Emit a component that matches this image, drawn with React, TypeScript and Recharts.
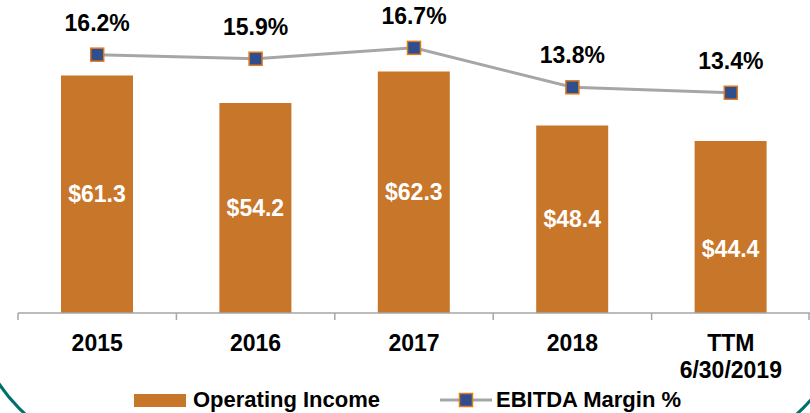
import React from "react";
import {Bar, ComposedChart, LabelList, Legend, Line, XAxis, YAxis} from "recharts";

const periods = ["2015", "2016", "2017", "2018", "TTM\n6/30/2019"];
const operatingIncome = [61.3, 54.2, 62.3, 48.4, 44.4];
const ebitdaMargin = [16.2, 15.9, 16.7, 13.8, 13.4];

const data = periods.map((p, i) => ({period: p, income: operatingIncome[i], margin: ebitdaMargin[i]}));

const FONT = "'Liberation Sans', Arial, sans-serif";
const ORANGE = "#C8762A";
const BLUE = "#2F4E8E";
const GREY = "#A6A6A6";
const CHART_W = 810;
const LEFT = 18;
const BAND = (CHART_W - LEFT) / periods.length;

const PeriodTick = (props: any) => {
    const {x, y, payload, index} = props;
    const lines = String(payload.value).split("\n");
    const axisY = y - 8;
    return (
        <g>
            {/* tick marks sit between categories */}
            <line x1={x - BAND / 2} y1={axisY} x2={x - BAND / 2} y2={axisY + 7} stroke={GREY} strokeWidth={1.5}/>
            {index === periods.length - 1 &&
                <line x1={x + BAND / 2 - 1} y1={axisY} x2={x + BAND / 2 - 1} y2={axisY + 7} stroke={GREY} strokeWidth={1.5}/>}
            <text x={x} y={y} textAnchor="middle" fontFamily={FONT} fontWeight={700} fontSize={23} fill="#000">
                {lines.map((l, i) => (
                    <tspan key={i} x={x} dy={i === 0 ? 30 : 27}>{l}</tspan>
                ))}
            </text>
        </g>
    );
};

const SquareDot = (props: any) => {
    const {cx, cy} = props;
    if (cx == null || cy == null) return null;
    return <rect x={cx - 6.5} y={cy - 6.5} width={13} height={13} fill={BLUE} stroke="#E07A1F" strokeWidth={1.5}/>;
};

const IncomeLabel = (props: any) => {
    const {x, y, width, height, value, index} = props;
    // last bar's label sits lower in the original
    const shift = index === 4 ? 22 : 0;
    return (
        <text x={x + width / 2} y={y + height / 2 + shift} dy={8} textAnchor="middle" fontFamily={FONT}
              fontWeight={700} fontSize={23} fill="#fff">
            {"$" + Number(value).toFixed(1)}
        </text>
    );
};

const LegendContent = () => (
    <div style={{display: "flex", alignItems: "center", fontFamily: FONT, fontWeight: 700, fontSize: 22, color: "#000", paddingLeft: 134}}>
        <span style={{display: "inline-block", width: 52, height: 13, background: ORANGE}}/>
        <span style={{marginLeft: 7}}>Operating Income</span>
        <svg width={52} height={16} style={{marginLeft: 60}}>
            <line x1={0} y1={8} x2={52} y2={8} stroke={GREY} strokeWidth={3}/>
            <rect x={19.5} y={1.5} width={13} height={13} fill={BLUE} stroke="#E07A1F" strokeWidth={1.5}/>
        </svg>
        <span style={{marginLeft: 4}}>EBITDA Margin %</span>
    </div>
);

export default function App() {
    return (
        <div style={{position: "absolute", left: 0, top: 0, width: 810, height: 413, overflow: "hidden", background: "#fff"}}>
            <div style={{
                position: "absolute", left: -29, top: -591, width: 880, height: 1047,
                border: "3px solid #00706C", borderRadius: 160, boxSizing: "border-box"
            }}/>
            <div style={{position: "absolute", left: 0, top: 0}}>
                <ComposedChart width={CHART_W} height={413} data={data} margin={{top: 3, right: 0, bottom: 0, left: LEFT}}>
                    <XAxis dataKey="period" axisLine={{stroke: GREY, strokeWidth: 1.5}} tickLine={false} height={74}
                           tick={<PeriodTick/>} interval={0}/>
                    <YAxis yAxisId="bar" hide domain={[0, 80]}/>
                    <YAxis yAxisId="pct" hide domain={[-2.8, 20]}/>
                    <Bar yAxisId="bar" dataKey="income" fill={ORANGE} barSize={72} isAnimationActive={false}>
                        <LabelList dataKey="income" content={<IncomeLabel/>}/>
                    </Bar>
                    <Line yAxisId="pct" dataKey="margin" stroke={GREY} strokeWidth={3} type="linear"
                          dot={<SquareDot/>} activeDot={false} isAnimationActive={false}>
                        <LabelList dataKey="margin" position="top" offset={24} fill="#000" fontFamily={FONT}
                                   fontWeight={700} fontSize={23} formatter={(v: any) => Number(v).toFixed(1) + "%"}/>
                    </Line>
                    <Legend verticalAlign="bottom" height={26} content={<LegendContent/>}
                            wrapperStyle={{left: 0, width: 810}}/>
                </ComposedChart>
            </div>
        </div>
    );
}
